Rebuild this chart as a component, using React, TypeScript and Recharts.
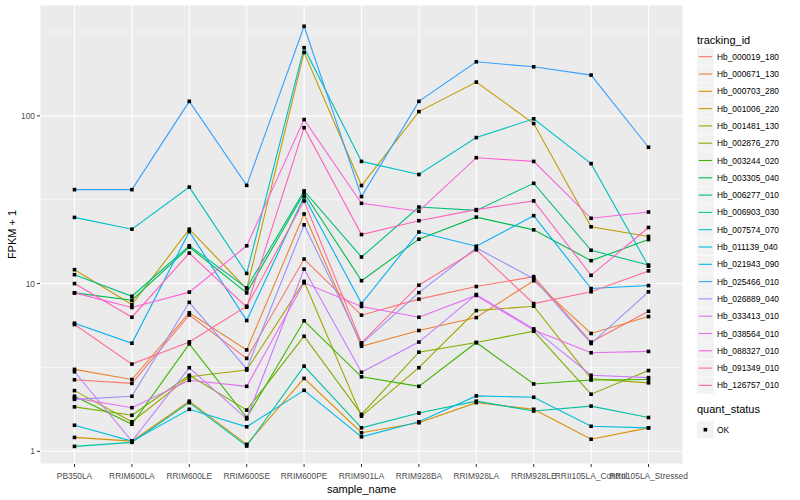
import { LineChart, Line, XAxis, YAxis, CartesianGrid, ReferenceLine } from "recharts";

const samples = [
  "PB350LA",
  "RRIM600LA",
  "RRIM600LE",
  "RRIM600SE",
  "RRIM600PE",
  "RRIM901LA",
  "RRIM928BA",
  "RRIM928LA",
  "RRIM928LE",
  "RRII105LA_Control",
  "RRII105LA_Stressed",
];

const trackingIds = [
  "Hb_000019_180",
  "Hb_000671_130",
  "Hb_000703_280",
  "Hb_001006_220",
  "Hb_001481_130",
  "Hb_002876_270",
  "Hb_003244_020",
  "Hb_003305_040",
  "Hb_006277_010",
  "Hb_006903_030",
  "Hb_007574_070",
  "Hb_011139_040",
  "Hb_021943_090",
  "Hb_025466_010",
  "Hb_026889_040",
  "Hb_033413_010",
  "Hb_038564_010",
  "Hb_088327_010",
  "Hb_091349_010",
  "Hb_126757_010",
];

// FPKM + 1, one value per sample
const hb000019_180 = [2.67, 2.54, 6.5, 3.58, 14.0, 6.48, 8.08, 9.6, 11.0, 4.48, 6.84];
const hb000671_130 = [3.08, 2.68, 6.7, 4.02, 26.0, 4.23, 5.25, 6.27, 10.4, 5.04, 6.36];
const hb000703_280 = [1.21, 1.15, 1.99, 1.1, 2.72, 1.29, 1.48, 1.95, 1.78, 1.18, 1.38];
const hb001006_220 = [12.1, 7.5, 21.1, 9.3, 239, 38.4, 106, 159, 90, 21.8, 19.1];
const hb001481_130 = [2.3, 1.5, 2.78, 3.05, 10.3, 1.62, 3.15, 6.9, 7.33, 2.71, 2.56];
const hb002876_270 = [1.84, 1.64, 2.84, 1.76, 4.85, 1.66, 3.9, 4.45, 5.2, 2.19, 3.03];
const hb003244_020 = [2.13, 1.45, 4.37, 1.59, 6.0, 2.78, 2.44, 4.45, 2.52, 2.66, 2.68];
const hb003305_040 = [8.8, 7.96, 16.5, 8.8, 34.7, 10.4, 18.4, 24.9, 20.9, 13.7, 18.3];
const hb006277_010 = [11.3, 8.4, 16.8, 9.42, 35.7, 14.4, 28.6, 27.3, 39.6, 15.8, 12.9];
const hb006903_030 = [1.07, 1.13, 1.95, 1.075, 3.22, 1.38, 1.69, 1.99, 1.74, 1.86, 1.59];
const hb007574_070 = [24.8, 21.1, 37.6, 11.5, 255, 53.5, 44.7, 74.2, 96, 51.9, 12.7];
const hb011139_040 = [1.43, 1.15, 1.78, 1.4, 2.31, 1.22, 1.5, 2.14, 2.1, 1.41, 1.38];
const hb021943_090 = [5.8, 4.41, 20.4, 6.02, 33.0, 7.6, 20.3, 16.7, 25.4, 9.34, 9.73];
const hb025466_010 = [36.3, 36.3, 122, 38.5, 342, 33, 122, 210, 196, 175, 65];
const hb026889_040 = [2.04, 2.13, 7.73, 3.1, 22.4, 4.37, 8.83, 16.3, 10.7, 4.39, 8.93];
const hb033413_010 = [2.98, 1.15, 3.15, 1.56, 12.2, 2.96, 4.48, 8.6, 5.37, 2.84, 2.75];
const hb038564_010 = [2.08, 1.82, 2.65, 2.44, 10.1, 7.3, 6.3, 8.5, 5.28, 3.87, 3.94];
const hb088327_010 = [8.8, 7.2, 8.89, 16.8, 95, 30.1, 27.0, 56.3, 53.5, 24.5, 26.7];
const hb091349_010 = [10.0, 6.3, 15.2, 7.23, 85, 19.6, 23.7, 27.6, 31.1, 11.2, 21.6];
const hb126757_010 = [5.7, 3.31, 4.49, 7.33, 31.1, 4.43, 9.78, 15.9, 7.6, 8.94, 11.9];

const seriesValues = [
  hb000019_180, hb000671_130, hb000703_280, hb001006_220, hb001481_130,
  hb002876_270, hb003244_020, hb003305_040, hb006277_010, hb006903_030,
  hb007574_070, hb011139_040, hb021943_090, hb025466_010, hb026889_040,
  hb033413_010, hb038564_010, hb088327_010, hb091349_010, hb126757_010,
];

// ggplot default hue palette for 20 groups
const colors = [
  "#F8766D", "#EA8331", "#D89000", "#C09B00", "#A3A500",
  "#7CAE00", "#39B600", "#00BB4E", "#00BF7D", "#00C1A3",
  "#00BFC4", "#00BAE0", "#00B0F6", "#35A2FF", "#9590FF",
  "#C77CFF", "#E76BF3", "#FA62DB", "#FF62BC", "#FF6C91",
];

const yTicks = [1, 10, 100];
const yMinorTicks = [3.162, 31.62, 316.2];
const statusLabels = ["OK"];

const rows = samples.map((s, i) => {
  const r: Record<string, string | number> = { sample_name: s };
  trackingIds.forEach((id, k) => {
    r[id] = seriesValues[k][i];
  });
  return r;
});

const FONT = '"Liberation Sans", Arial, Helvetica, sans-serif';

const Square = (props: any) => {
  const { cx, cy, index, dataKey } = props;
  if (cx == null || cy == null) return <g key={`${dataKey}-${index}`} />;
  return (
    <rect
      key={`${dataKey}-${index}`}
      x={cx - 1.8}
      y={cy - 1.8}
      width={3.6}
      height={3.6}
      fill="#000"
    />
  );
};

function LegendPanel() {
  const top = 56.7;
  const step = 17.3;
  const statusTop = top + trackingIds.length * step + 24;
  return (
    <svg
      width={800}
      height={500}
      style={{ position: "absolute", left: 0, top: 0, pointerEvents: "none" }}
      fontFamily={FONT}
    >
      <text x={697} y={44} fontSize={11} fill="#000">
        tracking_id
      </text>
      {trackingIds.map((id, k) => {
        const cy = top + k * step;
        return (
          <g key={id}>
            <rect x={697} y={cy - 8.4} width={16.8} height={16.8} fill="#F2F2F2" />
            <line x1={698.7} x2={712.1} y1={cy} y2={cy} stroke={colors[k]} strokeWidth={1.1} />
            <text x={717} y={cy + 3} fontSize={8.4} fill="#000">
              {id}
            </text>
          </g>
        );
      })}
      <text x={697} y={statusTop - 14} fontSize={11} fill="#000">
        quant_status
      </text>
      {statusLabels.map((s, k) => {
        const cy = statusTop + 3 + k * step;
        return (
          <g key={s}>
            <rect x={697} y={cy - 8.4} width={16.8} height={16.8} fill="#F2F2F2" />
            <rect x={703.6} y={cy - 1.8} width={3.6} height={3.6} fill="#000" />
            <text x={717} y={cy + 3} fontSize={8.4} fill="#000">
              {s}
            </text>
          </g>
        );
      })}
    </svg>
  );
}

export default function App() {
  return (
    <div
      style={{
        position: "absolute",
        left: 0,
        top: 0,
        width: 800,
        height: 500,
        background: "#fff",
        fontFamily: FONT,
      }}
    >
      <LineChart
        width={800}
        height={500}
        data={rows}
        margin={{ top: 5, right: 117, bottom: 0, left: 0 }}
      >
        <CartesianGrid fill="#EBEBEB" stroke="#FFFFFF" strokeWidth={1.1} />
        {yMinorTicks.map((v) => (
          <ReferenceLine key={v} y={v} stroke="#FFFFFF" strokeWidth={0.55} />
        ))}
        <XAxis
          dataKey="sample_name"
          scale="point"
          padding={{ left: 34.5, right: 34.5 }}
          height={36}
          interval={0}
          axisLine={false}
          tickSize={3}
          tickMargin={6}
          tickLine={{ stroke: "#333333" }}
          tick={{ fontSize: 8.4, fill: "#4D4D4D" }}
          label={{
            value: "sample_name",
            position: "insideBottom",
            offset: 7,
            fill: "#000",
            fontSize: 11,
          }}
        />
        <YAxis
          scale="log"
          type="number"
          domain={[0.84, 458]}
          allowDataOverflow
          ticks={yTicks}
          width={40}
          axisLine={false}
          tickSize={3}
          tickMargin={2}
          tickLine={{ stroke: "#333333" }}
          tick={{ fontSize: 8.4, fill: "#4D4D4D" }}
          label={{
            content: (p: any) => {
              const vb = p.viewBox || { x: 0, y: 5, width: 40, height: 459 };
              const cx = vb.x + 12;
              const cy = vb.y + vb.height / 2;
              return (
                <text
                  x={cx}
                  y={cy}
                  transform={`rotate(-90 ${cx} ${cy})`}
                  textAnchor="middle"
                  dominantBaseline="central"
                  fontSize={11}
                  fill="#000"
                >
                  FPKM + 1
                </text>
              );
            },
          }}
        />
        {trackingIds.map((id, k) => (
          <Line
            key={id}
            type="linear"
            dataKey={id}
            stroke={colors[k]}
            strokeWidth={1.1}
            dot={false}
            activeDot={false}
            isAnimationActive={false}
          />
        ))}
        {trackingIds.map((id) => (
          <Line
            key={`pt-${id}`}
            type="linear"
            dataKey={id}
            stroke="none"
            dot={Square}
            activeDot={false}
            legendType="none"
            isAnimationActive={false}
          />
        ))}
      </LineChart>
      <LegendPanel />
    </div>
  );
}
